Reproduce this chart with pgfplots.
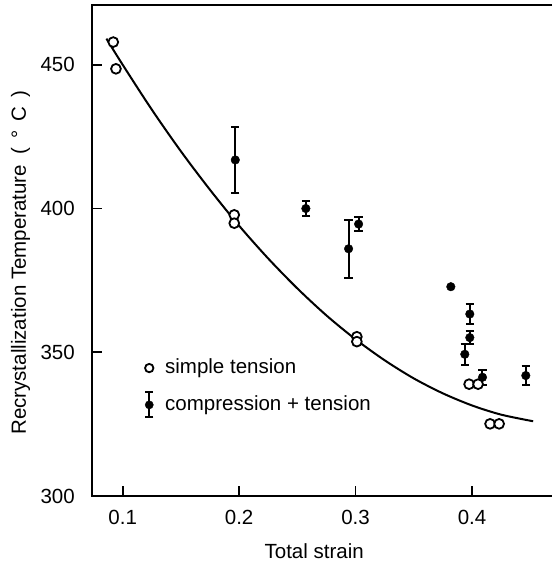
\documentclass[border=0pt]{standalone}
\usepackage{pgfplots}
\pgfplotsset{compat=1.18}
\usepackage{fontspec}
\setmainfont{Liberation Sans}

\pgfplotstableread{
x y
0.0919 457.9
0.0942 448.6
0.1958 397.8
0.1958 394.9
0.3011 355.4
0.3011 353.7
0.3975 338.9
0.4052 338.9
0.4155 325.1
0.4233 325.1
}\simpletension

\pgfplotstableread{
x y
0.086 459.1
0.100 450.0
0.125 434.4
0.150 419.9
0.175 406.5
0.200 394.0
0.225 382.6
0.250 372.2
0.275 362.8
0.300 354.5
0.325 347.2
0.350 340.9
0.375 335.7
0.400 331.5
0.425 328.3
0.4525 326.0
}\fitcurve

\begin{document}
\begin{tikzpicture}
\begin{axis}[name=ax, scale only axis, width=460pt, height=491pt,
  xmin=0.07363, xmax=0.4687, ymin=300, ymax=470.8,
  font=\fontsize{20.5}{24}\selectfont,
  /pgf/number format/assume math mode=true,
  xtick={0.1,0.2,0.3,0.4}, ytick={300,350,400,450},
  tick align=inside, xtick pos=bottom, ytick pos=left,
  major tick length=10pt, tick style={line width=1.8pt, black},
  separate axis lines,
  axis line style={draw=none},
  x tick label style={inner sep=0pt, anchor=north, yshift=-14pt, /pgf/number format/fixed, /pgf/number format/precision=1},
  y tick label style={inner sep=0pt, anchor=east, xshift=-17pt},
  xlabel={Total strain},
  ylabel={Recrystallization Temperature\hspace{0.5em}(\hspace{0.45em}°\hspace{0.45em}C\hspace{0.45em})},
  xlabel style={at={(axis description cs:0.483,0)}, anchor=north, inner sep=0pt, yshift=-47pt},
  ylabel style={at={(axis description cs:-0.1435,0.4756)}, anchor=base, inner sep=0pt},
  clip=false,
]
\addplot[black, line width=2pt, smooth] table[x=x,y=y] {\fitcurve};
\addplot[only marks, mark=*, mark size=4.9pt, mark options={fill=white, draw=black, line width=1.8pt}] table[x=x,y=y] {\simpletension};
\addplot[only marks, mark=*, mark size=4.3pt, black,
  error bars/.cd, y dir=both, y explicit,
  error bar style={line width=2pt, black},
  error mark options={rotate=90, mark size=4.2pt, line width=2pt, black}]
  coordinates {
  (0.1967,416.9) +- (0,11.5)
  (0.2573,400.0) +- (0,2.7)
  (0.2940,386.0) +- (0,10.1)
  (0.3026,394.6) +- (0,2.3)
  (0.3981,363.3) +- (0,3.5)
  (0.3981,355.1) +- (0,2.2)
  (0.3938,349.3) +- (0,3.7)
  (0.4090,341.3) +- (0,2.7)
  (0.4462,341.9) +- (0,3.2)
  };
\addplot[only marks, mark=*, mark size=4.3pt, black] coordinates {(0.3818,372.8)};
% legend
\addplot[only marks, mark=*, mark size=4.2pt, mark options={fill=white, draw=black, line width=1.8pt}, forget plot] coordinates {(0.1228,344.5)};
\addplot[only marks, mark=*, mark size=4.1pt, black, forget plot,
  error bars/.cd, y dir=both, y explicit,
  error bar style={line width=2pt, black},
  error mark options={rotate=90, mark size=4.2pt, line width=2pt, black}]
  coordinates {(0.1228,331.7) +- (0,4.35)};
\node[anchor=west, inner sep=0pt] at (axis cs:0.1363,344.5) {simple tension};
\node[anchor=west, inner sep=0pt] at (axis cs:0.1363,331.7) {compression + tension};
\draw[line width=2pt, black] (rel axis cs:1,1) -- (rel axis cs:0,1) -- (rel axis cs:0,0) -- (rel axis cs:1,0);
\end{axis}
\pgfresetboundingbox
\path ([xshift=-92pt,yshift=-65pt]ax.south west) rectangle ([yshift=5pt]ax.north east);
\end{tikzpicture}
\end{document}
